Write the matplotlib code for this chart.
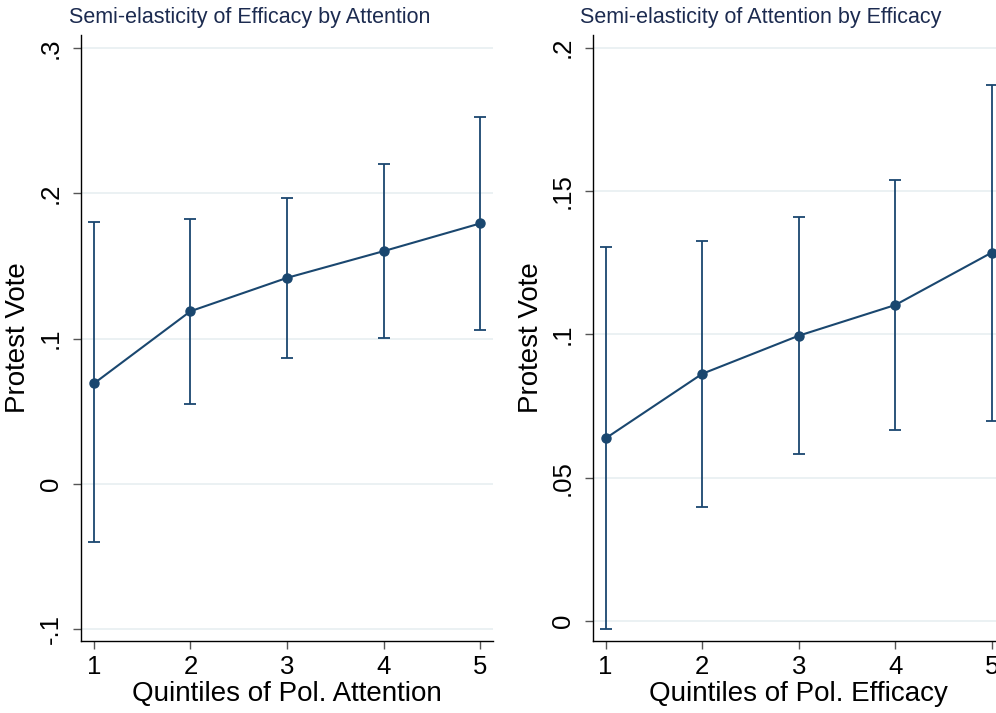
import matplotlib
matplotlib.use("Agg")
import matplotlib.pyplot as plt

plt.rcParams['font.family'] = ['Liberation Sans', 'DejaVu Sans']

# quintiles on x
quintiles = [1, 2, 3, 4, 5]

# left panel: efficacy by attention
att_est = [0.069, 0.1188, 0.1418, 0.1602, 0.1793]
att_lo = [-0.0405, 0.0552, 0.0866, 0.1004, 0.1062]
att_hi = [0.180, 0.1823, 0.1968, 0.2202, 0.2528]

# right panel: attention by efficacy
eff_est = [0.0637, 0.0862, 0.0995, 0.1102, 0.1285]
eff_lo = [-0.0028, 0.0399, 0.0581, 0.0665, 0.0699]
eff_hi = [0.1306, 0.1327, 0.141, 0.1538, 0.187]

left_ticks = [-0.1, 0, 0.1, 0.2, 0.3]
left_labels = ['-.1', '0', '.1', '.2', '.3']
right_ticks = [0, 0.05, 0.1, 0.15, 0.2]
right_labels = ['0', '.05', '.1', '.15', '.2']

navy = '#1a476f'
grid_col = '#e8eff1'
title_col = '#1c2b50'

fig = plt.figure(figsize=(9.96, 7.13), dpi=100)
W, H = 996.0, 713.0


def panel(left_px, est, lo, hi, ticks, labels, ylim, xlabel, ylab_x):
    ax = fig.add_axes([left_px / W, 1 - 641 / H, 412 / W, 606 / H])
    yerr = [[e - l for e, l in zip(est, lo)], [h - e for e, h in zip(est, hi)]]
    ax.errorbar(quintiles, est, yerr=yerr, fmt='none', ecolor=navy,
                elinewidth=1.3, capsize=4.5, capthick=1.3, zorder=2)
    ax.plot(quintiles, est, color=navy, lw=1.5, marker='o', ms=6.5, zorder=3)
    ax.set_xlim(0.866, 5.134)
    ax.set_ylim(*ylim)
    ax.set_xticks(quintiles)
    ax.set_yticks(ticks)
    ax.set_yticklabels(labels, rotation=90, va='center')
    ax.tick_params(axis='both', labelsize=18.5, length=6, width=1,
                   color='#555555', direction='out')
    ax.tick_params(axis='y', pad=7)
    ax.tick_params(axis='x', pad=4)
    ax.grid(axis='y', color=grid_col, lw=1.2)
    ax.set_axisbelow(True)
    for s in ['top', 'right']:
        ax.spines[s].set_visible(False)
    for s in ['left', 'bottom']:
        ax.spines[s].set_linewidth(1.0)
        ax.spines[s].set_color('black')
    ax.set_ylabel('Protest Vote', fontsize=20)
    ax.yaxis.set_label_coords(ylab_x, 0.5)
    ax.set_xlabel(xlabel, fontsize=20)
    ax.xaxis.set_label_coords(0.5, -0.066)
    return ax


panel(81, att_est, att_lo, att_hi, left_ticks, left_labels,
      (-0.1085, 0.3092), 'Quintiles of Pol. Attention', -0.121)
panel(592.7, eff_est, eff_lo, eff_hi, right_ticks, right_labels,
      (-0.007, 0.2044), 'Quintiles of Pol. Efficacy', -0.118)

fig.text(250 / W, 1 - 17.5 / H, 'Semi-elasticity of Efficacy by Attention',
         ha='center', va='center', fontsize=15.5, color=title_col)
fig.text(761 / W, 1 - 17.5 / H, 'Semi-elasticity of Attention by Efficacy',
         ha='center', va='center', fontsize=15.5, color=title_col)

fig.savefig('out.png', dpi=100)
